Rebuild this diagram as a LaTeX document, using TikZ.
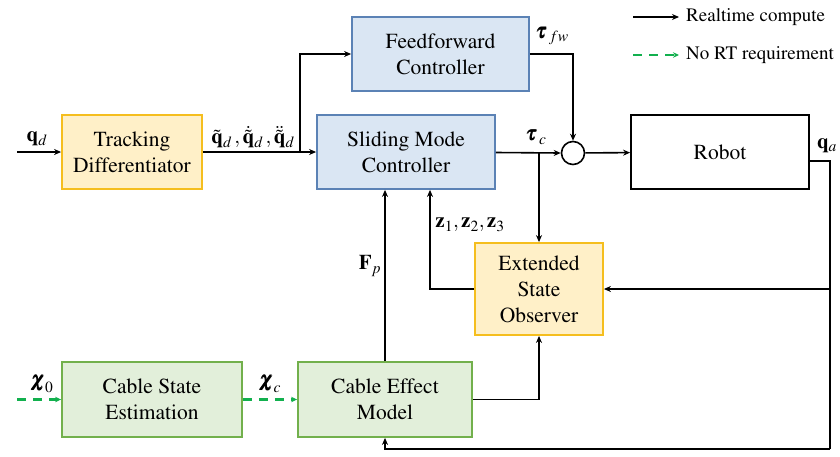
\documentclass[tikz,border=0pt]{standalone}
\usepackage[T1]{fontenc}
\usepackage{amsmath}
\usepackage{mathptmx}
\usepackage{bm}
\usetikzlibrary{arrows.meta}

\definecolor{bluefill}{HTML}{DAE6F3}
\definecolor{blueline}{HTML}{5B82B5}
\definecolor{yelfill}{HTML}{FFF0C8}
\definecolor{yelline}{HTML}{F5BE1E}
\definecolor{grnfill}{HTML}{E2EFDA}
\definecolor{grnline}{HTML}{72B04C}
\definecolor{grndash}{HTML}{12B04E}

\tikzset{
	block/.style={draw, line width=1.8pt, align=center, inner sep=0pt,
		minimum width=#1, font=\fontsize{21.5}{26}\selectfont},
	ctrl/.style={block=178pt, minimum height=74pt, draw=blueline, fill=bluefill},
	obs/.style={block=128pt, minimum height=92pt, draw=yelline, fill=yelfill},
	cable/.style={block=176pt, minimum height=75pt, draw=grnline, fill=grnfill},
	sig/.style={line width=1.6pt, -{Stealth[length=7pt,width=6pt]}},
	rtfree/.style={line width=2.2pt, draw=grndash, dash pattern=on 9pt off 7pt,
		-{Stealth[length=6pt,width=5.5pt]}},
	lbl/.style={inner sep=0pt},
}

\begin{document}
\begin{tikzpicture}[x=1pt, y=-1pt, font=\fontsize{21}{25}\selectfont]
	\useasboundingbox (0,0) rectangle (840,456);

	\node[block=140pt, minimum height=74pt, draw=yelline, fill=yelfill] (td) at (132,152) {Tracking\\Differentiator};
	\node[ctrl, minimum width=177pt] (ff) at (440.5,54) {Feedforward\\Controller};
	\node[ctrl] (smc) at (406,152) {Sliding Mode\\Controller};
	\node[block=178pt, minimum height=74pt, draw=black, fill=white] (robot) at (720,152) {Robot};
	\node[obs] (eso) at (539,289) {Extended\\State\\Observer};
	\node[cable, minimum width=180pt] (cse) at (152,399.5) {Cable State\\Estimation};
	\node[cable, minimum width=174pt] (cem) at (385,399.5) {Cable Effect\\Model};
	\node[shape=circle, draw=black, line width=1.6pt, minimum size=23pt, inner sep=0pt] (sum) at (573,153) {};

	% corners of the wiring
	\coordinate (in) at (17,152);
	\coordinate (split) at (300,152);
	\coordinate (tauc) at (539,152.5);
	\coordinate (qa) at (830,161);
	\coordinate (back) at (830,449);
	\coordinate (zz) at (430,289);
	\coordinate (fp) at (385,362);
	\coordinate (x0) at (17,399.5);

	% realtime loop
	\draw[sig] (in) -- (td);
	\draw[sig] (td) -- (smc);
	\draw[sig] (split) |- (ff);
	\draw[sig] (ff.east) -| (sum.north);
	\draw[sig] (smc.east |- tauc) -- (sum.west);
	\draw[sig] (tauc) -- (eso.north);
	\draw[sig] (sum) -- (robot);
	\draw[line width=1.6pt] (robot.east |- qa) -- (qa) -- (back);
	\draw[sig] (qa |- eso.east) -- (eso.east);
	\draw[sig] (back) -| (cem.south);
	\draw[sig] (eso.west) -| (zz |- smc.south);
	\draw[sig] (cem.north) -- (fp |- smc.south);
	\draw[sig] (cem.east) -| (eso.south);

	% offline cable estimation
	\draw[rtfree] (x0) -- (cse.west);
	\draw[rtfree] (cse.east) -- (cem.west);

	% signal names
	\node[lbl] (lqd) at (37,139) {$\mathbf{q}_d$};
	\node[lbl] (lref) at (253,137) {$\tilde{\mathbf{q}}_d\,,\dot{\tilde{\mathbf{q}}}_d\,,\ddot{\tilde{\mathbf{q}}}_d$};
	\node[lbl] (lfw) at (552,36) {$\bm{\tau}_{\,fw}$};
	\node[lbl] (ltc) at (536,137) {$\bm{\tau}_{\,c}$};
	\node[lbl] (lqa) at (827,146) {$\mathbf{q}_a$};
	\node[lbl] (lz) at (470,225) {$\mathbf{z}_1,\mathbf{z}_2,\mathbf{z}_3$};
	\node[lbl] (lfp) at (370,266) {$\mathbf{F}_p$};
	\node[lbl] (lx0) at (42,384) {$\bm{\chi}_0$};
	\node[lbl] (lxc) at (270,384) {$\bm{\chi}_c$};

	% legend
	\coordinate (rt1) at (633,17);
	\coordinate (rt2) at (679,17);
	\coordinate (nr1) at (633,55);
	\coordinate (nr2) at (679,55);
	\draw[sig] (rt1) -- (rt2);
	\draw[rtfree] (nr1) -- (nr2);
	\node[lbl, anchor=west, font=\fontsize{19}{24}\selectfont] (lrt) at (686,17) {Realtime compute};
	\node[lbl, anchor=west, font=\fontsize{19}{24}\selectfont] (lnr) at (686,55) {No RT requirement};
\end{tikzpicture}
\end{document}
